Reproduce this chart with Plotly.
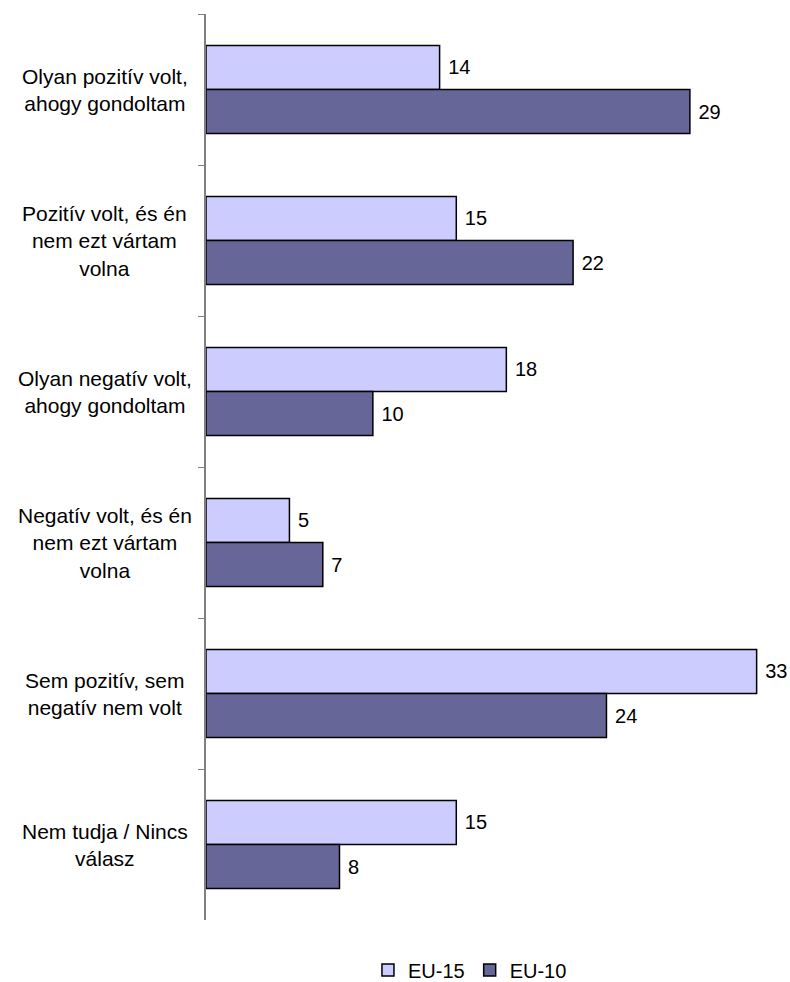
import plotly.graph_objects as go

categories = [
    "Olyan pozitív volt,<br>ahogy gondoltam",
    "Pozitív volt, és én<br>nem ezt vártam<br>volna",
    "Olyan negatív volt,<br>ahogy gondoltam",
    "Negatív volt, és én<br>nem ezt vártam<br>volna",
    "Sem pozitív, sem<br>negatív nem volt",
    "Nem tudja / Nincs<br>válasz",
]
eu15 = [14, 15, 18, 5, 33, 15]
eu10 = [29, 22, 10, 7, 24, 8]

FONT = "Liberation Sans, Arial, sans-serif"
fig = go.Figure()
for name, vals, col in [("EU-15", eu15, "#CCCCFF"), ("EU-10", eu10, "#666699")]:
    fig.add_trace(go.Bar(
        y=categories, x=vals, orientation="h", name=name,
        marker=dict(color=col, line=dict(color="black", width=1.5)),
        text=vals, texttemplate="\u00a0%{text}", textposition="outside", cliponaxis=False,
        textfont=dict(size=20, color="black", family=FONT),
    ))

for c in categories:
    fig.add_annotation(
        x=-0.173, xref="paper", y=c, yref="y", text=c, showarrow=False,
        xanchor="center", yanchor="middle", align="center",
        font=dict(size=21, color="black", family=FONT),
    )

fig.update_layout(
    width=790, height=982,
    margin=dict(l=206, r=0, t=14, b=62, autoexpand=False),
    paper_bgcolor="white", plot_bgcolor="white",
    barmode="group", bargap=0.417, bargroupgap=0,
    font=dict(family=FONT, size=20, color="black"),
    showlegend=True,
    legend=dict(orientation="h", x=0.452, xanchor="center", y=-0.0552, yanchor="middle",
                font=dict(size=20, family=FONT), traceorder="normal",
                itemwidth=30, tracegroupgap=0),
    xaxis=dict(range=[0, 35], visible=False, fixedrange=True),
    yaxis=dict(autorange="reversed", showticklabels=False, tickson="boundaries",
               ticks="outside", ticklen=6, tickcolor="#808080",
               showline=True, linecolor="#808080", linewidth=1.5,
               showgrid=False, zeroline=False),
)

fig.write_html("out.html", config={"displayModeBar": False},
               post_script="document.body.style.margin='0';document.body.style.overflow='hidden';")
